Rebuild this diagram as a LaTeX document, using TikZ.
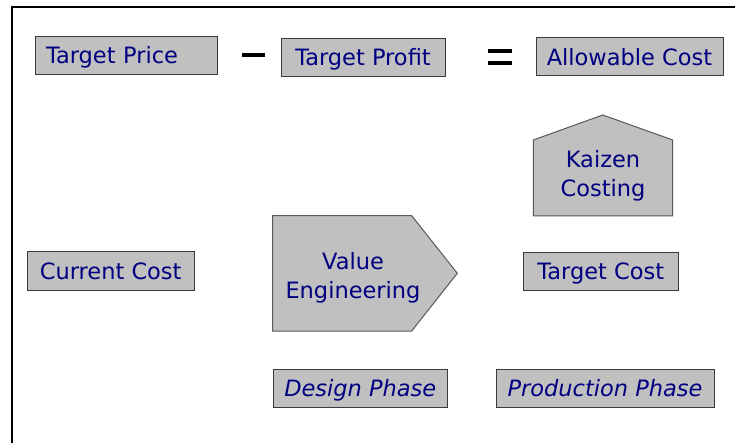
\documentclass[tikz,border=0pt]{standalone}
\usepackage{fontspec}
\setmainfont{DejaVu Sans}
\definecolor{boxfill}{HTML}{C0C0C0}
\definecolor{boxtext}{HTML}{000080}
\definecolor{boxline}{HTML}{3A3A3A}
\begin{document}
\begin{tikzpicture}[x=1pt,y=-1pt,
  lbl/.style={font=\fontsize{22.5}{29}\selectfont, text=boxtext, inner sep=0pt, align=center},
  termbox/.style={lbl, draw=boxline, line width=1pt, fill=boxfill, minimum height=38pt,
    text height=16.4pt, text depth=0pt},
  phasebox/.style={termbox, font=\fontsize{22.5}{29}\selectfont\itshape},
  shapeline/.style={draw=black!65, line width=1pt, fill=boxfill, line join=miter},
  opbar/.style={fill=black}]
\useasboundingbox (0,0) rectangle (735,443);
\fill[white] (0,0) rectangle (735,443);

% frame (only top and left edges fall inside the page)
\draw[line width=2pt] (11.5,443) -- (11.5,7) -- (735,7);

% top equation
\node[termbox, text width=160pt, inner xsep=11pt, align=left] (price) at (126,55.5) {Target Price};
\node[termbox, minimum width=164pt] (profit) at (363,57.5) {Target Profit};
\node[termbox, minimum width=187pt] (allow) at (629.5,57) {Allowable Cost};
\fill[opbar] (242,53) rectangle (265,57.3);
\fill[opbar] (488,49.3) rectangle (512,53.3);
\fill[opbar] (488,60.7) rectangle (512,64.7);

% kaizen costing (house shape)
\path[shapeline] (533.3,216) -- (533.3,140) -- (602.7,115) -- (672.7,140) -- (672.7,216) -- cycle;
\node[lbl] (kaizen) at (603,175.5) {Kaizen\\Costing};

% value engineering (arrow shape)
\path[shapeline] (272.7,215.7) -- (411.7,215.7) -- (457.3,273.3) -- (411.7,331) -- (272.7,331) -- cycle;
\node[lbl] (ve) at (353,277.5) {Value\\Engineering};

% current and target cost
\node[termbox, minimum width=167pt] (current) at (110.7,271) {Current Cost};
\node[termbox, minimum width=155pt] (target) at (600.8,271.5) {Target Cost};

% phases
\node[phasebox, minimum width=174pt] (design) at (360.3,388.3) {Design Phase};
\node[phasebox, minimum width=218pt] (production) at (605,388.3) {Production Phase};
\end{tikzpicture}
\end{document}
